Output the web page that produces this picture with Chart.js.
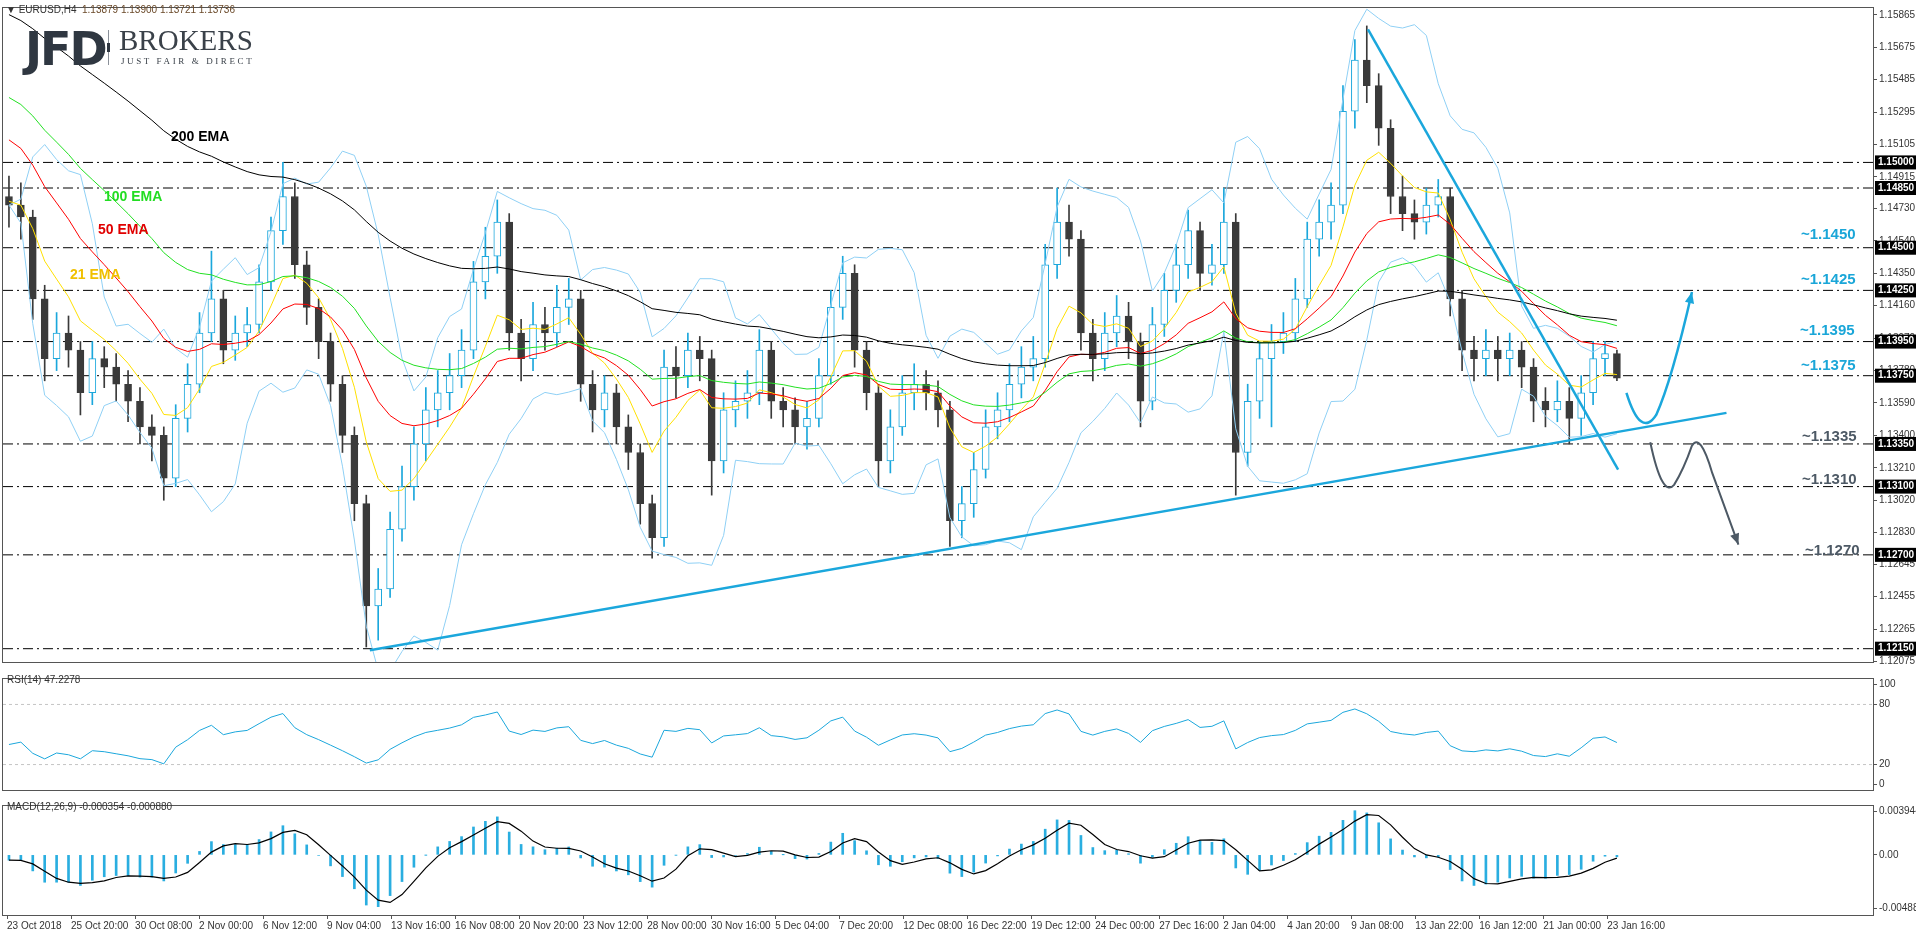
<!DOCTYPE html>
<html>
<head>
<meta charset="utf-8">
<script src="https://cdn.jsdelivr.net/npm/chart.js@4.4.1/dist/chart.umd.min.js"></script>
<style>
  body { margin: 0; background: #fff; width: 1916px; height: 936px; overflow: hidden; position: relative; font-family: "Liberation Sans", Arial, sans-serif; }
  canvas { position: absolute; left: 0; }
  .txt { position: absolute; white-space: nowrap; }
  .lvl { font-weight: bold; font-size: 15px; }
</style>
</head>
<body>
<canvas id="mainChart" width="1916" height="670" style="top:0"></canvas>
<canvas id="rsiChart" width="1916" height="127" style="top:671px"></canvas>
<canvas id="macdChart" width="1916" height="138" style="top:798px"></canvas>

<div class="txt" style="left:6px;top:4px;font-size:10px;color:#333">&#9660; EURUSD,H4 &nbsp;<span style="color:#6b4a2a">1.13879 1.13900 1.13721 1.13736</span></div>
<div class="txt" style="left:25px;top:22px;font-family:'DejaVu Sans';font-weight:bold;font-size:46px;letter-spacing:-2px;color:#2f3741">JFD</div>
<div style="position:absolute;left:108px;top:30px;width:1px;height:35px;background:#8a9099"></div>
<div style="position:absolute;left:107px;top:43px;width:3px;height:9px;background:#2f3741"></div>
<div class="txt" style="left:119px;top:24px;font-family:'Liberation Serif';font-size:29px;color:#3a4149">BROKERS</div>
<div class="txt" style="left:121px;top:56px;font-family:'Liberation Serif';font-size:9px;letter-spacing:2.6px;color:#3a4149">JUST FAIR &amp; DIRECT</div>

<div class="txt" style="left:171px;top:128px;font-weight:bold;font-size:14px;color:#000">200 EMA</div>
<div class="txt" style="left:104px;top:188px;font-weight:bold;font-size:14px;color:#22dd22">100 EMA</div>
<div class="txt" style="left:98px;top:221px;font-weight:bold;font-size:14px;color:#e00000">50 EMA</div>
<div class="txt" style="left:70px;top:266px;font-weight:bold;font-size:14px;color:#f0c000">21 EMA</div>

<div class="txt lvl" style="left:1801px;top:225px;color:#1aa6d8">~1.1450</div>
<div class="txt lvl" style="left:1801px;top:270px;color:#1aa6d8">~1.1425</div>
<div class="txt lvl" style="left:1800px;top:321px;color:#1aa6d8">~1.1395</div>
<div class="txt lvl" style="left:1801px;top:356px;color:#1aa6d8">~1.1375</div>
<div class="txt lvl" style="left:1802px;top:427px;color:#4d5965">~1.1335</div>
<div class="txt lvl" style="left:1802px;top:470px;color:#4d5965">~1.1310</div>
<div class="txt lvl" style="left:1805px;top:541px;color:#4d5965">~1.1270</div>

<div class="txt" style="left:7px;top:674px;font-size:10px;color:#333">RSI(14) 47.2278</div>
<div class="txt" style="left:7px;top:801px;font-size:10px;color:#333">MACD(12,26,9) -0.000354 -0.000880</div>

<script>
// EURUSD H4, one candle per 12h block
const firstOpen = 1.1480;
const closes = [1.1475,1.1468,1.1420,1.1385,1.1400,1.1390,1.1365,1.1385,1.1380,1.1370,
  1.1360,1.1345,1.1340,1.1315,1.1350,1.1370,1.1400,1.1420,1.1390,1.1400,
  1.1405,1.1430,1.1460,1.1480,1.1440,1.1415,1.1395,1.1370,1.1340,1.1300,
  1.1240,1.1250,1.1285,1.1310,1.1335,1.1355,1.1365,1.1375,1.1390,1.1430,
  1.1445,1.1465,1.1400,1.1385,1.1405,1.1400,1.1415,1.1420,1.1370,1.1355,
  1.1365,1.1345,1.1330,1.1300,1.1280,1.1380,1.1375,1.1390,1.1385,1.1325,
  1.1355,1.1360,1.1365,1.1390,1.1360,1.1355,1.1345,1.1350,1.1375,1.1415,
  1.1435,1.1390,1.1365,1.1325,1.1345,1.1365,1.1370,1.1365,1.1355,1.1290,
  1.1300,1.1320,1.1345,1.1355,1.1370,1.1380,1.1385,1.1440,1.1465,1.1455,
  1.1400,1.1385,1.1400,1.1410,1.1395,1.1360,1.1405,1.1425,1.1440,1.1460,
  1.1435,1.1440,1.1465,1.1330,1.1360,1.1385,1.1395,1.1400,1.1420,1.1455,
  1.1465,1.1475,1.1530,1.1560,1.1545,1.1520,1.1480,1.1470,1.1465,1.1475,
  1.1480,1.1420,1.1390,1.1385,1.1390,1.1385,1.1390,1.1380,1.1360,1.1355,
  1.1360,1.1350,1.1365,1.1385,1.13879,1.13736];
const highs = [1.1492,1.1488,1.1472,1.1428,1.1412,1.1410,1.1395,1.1395,1.1392,1.1388,
  1.1378,1.1368,1.1352,1.1345,1.1358,1.1382,1.1412,1.1448,1.1425,1.1410,
  1.1415,1.1440,1.1468,1.1500,1.1488,1.1448,1.1420,1.1400,1.1375,1.1345,
  1.1305,1.1262,1.1295,1.1322,1.1345,1.1368,1.1378,1.1388,1.1402,1.1442,
  1.1462,1.1478,1.1470,1.1408,1.1418,1.1415,1.1428,1.1432,1.1425,1.1378,
  1.1375,1.1370,1.1352,1.1335,1.1305,1.1390,1.1392,1.1400,1.1398,1.1390,
  1.1365,1.1372,1.1378,1.1402,1.1395,1.1368,1.1362,1.1360,1.1385,1.1425,
  1.1445,1.1440,1.1395,1.1370,1.1355,1.1375,1.1382,1.1378,1.1372,1.1360,
  1.1310,1.1330,1.1355,1.1365,1.1382,1.1392,1.1398,1.1452,1.1485,1.1475,
  1.1460,1.1408,1.1412,1.1422,1.1418,1.1400,1.1415,1.1435,1.1452,1.1472,
  1.1465,1.1452,1.1485,1.1470,1.1370,1.1395,1.1405,1.1412,1.1432,1.1465,
  1.1478,1.1488,1.1545,1.1572,1.1580,1.1552,1.1525,1.1492,1.1478,1.1485,
  1.1490,1.1485,1.1425,1.1398,1.1402,1.1398,1.1400,1.1395,1.1385,1.1368,
  1.1372,1.1368,1.1375,1.1395,1.1395,1.1390];
const lows = [1.1462,1.1455,1.1408,1.1372,1.1378,1.1380,1.1352,1.1358,1.1368,1.1360,
  1.1348,1.1335,1.1325,1.1302,1.1310,1.1342,1.1365,1.1395,1.1382,1.1384,
  1.1392,1.1400,1.1425,1.1452,1.1432,1.1405,1.1385,1.1360,1.1330,1.1290,
  1.1216,1.1220,1.1245,1.1278,1.1302,1.1325,1.1345,1.1355,1.1368,1.1385,
  1.1420,1.1435,1.1390,1.1372,1.1378,1.1390,1.1392,1.1405,1.1360,1.1342,
  1.1345,1.1335,1.1320,1.1288,1.1268,1.1275,1.1362,1.1368,1.1372,1.1305,
  1.1318,1.1345,1.1350,1.1358,1.1350,1.1345,1.1335,1.1332,1.1345,1.1370,
  1.1408,1.1380,1.1355,1.1310,1.1318,1.1340,1.1355,1.1355,1.1345,1.1275,
  1.1280,1.1292,1.1315,1.1338,1.1348,1.1362,1.1372,1.1380,1.1432,1.1445,
  1.1390,1.1372,1.1378,1.1392,1.1385,1.1345,1.1355,1.1398,1.1418,1.1432,
  1.1425,1.1428,1.1435,1.1305,1.1322,1.1350,1.1345,1.1388,1.1395,1.1415,
  1.1445,1.1455,1.1470,1.1520,1.1535,1.1510,1.1470,1.1460,1.1455,1.1458,
  1.1468,1.1410,1.1378,1.1372,1.1375,1.1372,1.1375,1.1368,1.1348,1.1345,
  1.1348,1.1335,1.1340,1.1358,1.1375,1.13721];

const dateLabels = ["23 Oct 2018","25 Oct 20:00","30 Oct 08:00","2 Nov 00:00","6 Nov 12:00","9 Nov 04:00",
  "13 Nov 16:00","16 Nov 08:00","20 Nov 20:00","23 Nov 12:00","28 Nov 00:00","30 Nov 16:00","5 Dec 04:00",
  "7 Dec 20:00","12 Dec 08:00","16 Dec 22:00","19 Dec 12:00","24 Dec 00:00","27 Dec 16:00","2 Jan 04:00",
  "4 Jan 20:00","9 Jan 08:00","13 Jan 22:00","16 Jan 12:00","21 Jan 00:00","23 Jan 16:00"];
const priceTicks = [1.15865,1.15675,1.15485,1.15295,1.15105,1.14915,1.14730,1.14540,1.14350,1.14160,
  1.13970,1.13780,1.13590,1.13400,1.13210,1.13020,1.12830,1.12645,1.12455,1.12265,1.12075];
const levels = [1.1500,1.1485,1.1450,1.1425,1.1395,1.1375,1.1335,1.1310,1.1270,1.1215];
const emaPeriods = [7, 17, 33, 67];           // 21/50/100/200 on H4, in 12h candles
const emaSeeds = [1.1478, 1.1518, 1.1542, 1.1590];
const emaColors = ['#ffe000', '#ff0000', '#22e022', '#000000'];
const upTrend = [[30.3, 1.12141], [144.2, 1.13532]];
const downTrend = [[114.1, 1.1578], [135.1, 1.1320]];
const rsiTicks = [0, 20, 80, 100];
const macdTicks = [-0.004887, 0, 0.003944];

const X_MIN = -0.5, X_MAX = 156.5;
const BLUE = '#1ba7dc';
const opens = closes.map((c, i) => i === 0 ? firstOpen : closes[i - 1]);

function ema(values, period, seed) {
    const k = 2 / (period + 1);
    let out = [], prev = seed;
    values.forEach(v => { prev = prev + k * (v - prev); out.push(prev); });
    return out;
}

function bollinger(values, period, dev) {
    let up = [], dn = [];
    values.forEach((v, i) => {
        const win = values.slice(Math.max(0, i - period + 1), i + 1);
        const m = win.reduce((a, b) => a + b, 0) / win.length;
        const sd = Math.sqrt(win.reduce((a, b) => a + (b - m) * (b - m), 0) / win.length);
        up.push(m + dev * sd);
        dn.push(m - dev * sd);
    });
    return [up, dn];
}

function rsi(values, period) {
    let out = [40], ag = 0.0008, al = 0.0010;
    for (let i = 1; i < values.length; i++) {
        const d = values[i] - values[i - 1];
        ag = (ag * (period - 1) + Math.max(d, 0)) / period;
        al = (al * (period - 1) + Math.max(-d, 0)) / period;
        out.push(100 - 100 / (1 + ag / al));
    }
    return out;
}

const pts = arr => arr.map((v, i) => ({ x: i, y: v }));
const seg = (a, b) => [{ x: a[0], y: a[1] }, { x: b[0], y: b[1] }];
const fixWidth = s => { s.width = 43; };

const framePlugin = {
    id: 'frame',
    afterDraw(chart) {
        const { ctx, chartArea: a } = chart;
        ctx.save();
        ctx.strokeStyle = '#555';
        ctx.lineWidth = 1;
        ctx.strokeRect(a.left - 0.5, a.top - 0.5, a.right - a.left + 1, a.bottom - a.top + 1);
        ctx.restore();
    }
};

function drawMain() {
    const isUp = closes.map((c, i) => c >= opens[i]);
    const [bbUp, bbDn] = bollinger(closes, 7, 2);
    let datasets = [];

    levels.forEach(l => datasets.push({
        type: 'line', data: seg([X_MIN, l], [X_MAX, l]), borderColor: '#000', borderWidth: 1,
        borderDash: [10, 4, 2, 4], pointRadius: 0, order: 20
    }));
    datasets.push({
        type: 'bar', data: lows.map((l, i) => ({ x: i, y: [l, highs[i]] })), barThickness: 1,
        backgroundColor: isUp.map(u => u ? BLUE : '#3a3a3a'), grouped: false, order: 12
    });
    datasets.push({
        type: 'bar', data: opens.map((o, i) => ({ x: i, y: [o, closes[i]] })), barThickness: 7,
        backgroundColor: isUp.map(u => u ? '#ffffff' : '#3a3a3a'),
        borderColor: isUp.map(u => u ? BLUE : '#3a3a3a'), borderWidth: 1, borderSkipped: false,
        grouped: false, minBarLength: 1, order: 11
    });
    [bbUp, bbDn].forEach(b => datasets.push({
        type: 'line', data: pts(b), borderColor: '#8fd0f5', borderWidth: 1, pointRadius: 0, order: 5
    }));
    emaPeriods.forEach((p, k) => datasets.push({
        type: 'line', data: pts(ema(closes, p, emaSeeds[k])), borderColor: emaColors[k], borderWidth: 1,
        pointRadius: 0, order: 4 - k
    }));
    [upTrend, downTrend].forEach(t => datasets.push({
        type: 'line', data: seg(t[0], t[1]), borderColor: BLUE, borderWidth: 2.5, pointRadius: 0, order: 0
    }));

    const annotations = {
        id: 'annotations',
        afterDraw(chart) {
            const { ctx, scales: { x, y } } = chart;
            const P = (i, v) => [x.getPixelForValue(i), y.getPixelForValue(v)];
            ctx.save();
            // scenario arrows
            function arrowHead(tip, from, color) {
                const ang = Math.atan2(tip[1] - from[1], tip[0] - from[0]);
                ctx.fillStyle = color;
                ctx.beginPath();
                ctx.moveTo(tip[0], tip[1]);
                ctx.lineTo(tip[0] - 12 * Math.cos(ang - 0.4), tip[1] - 12 * Math.sin(ang - 0.4));
                ctx.lineTo(tip[0] - 12 * Math.cos(ang + 0.4), tip[1] - 12 * Math.sin(ang + 0.4));
                ctx.closePath();
                ctx.fill();
            }
            ctx.lineWidth = 2.5;
            ctx.strokeStyle = BLUE;
            let a = P(135.8, 1.1365), c1 = P(137.0, 1.1338), b = P(138.3, 1.1352), c2 = P(139.6, 1.1372), t = P(141.3, 1.1424);
            ctx.beginPath();
            ctx.moveTo(...a); ctx.quadraticCurveTo(...c1, ...b); ctx.quadraticCurveTo(...c2, ...t);
            ctx.stroke();
            arrowHead(t, c2, BLUE);

            ctx.lineWidth = 2;
            ctx.strokeStyle = '#4d5965';
            let g = [P(137.8, 1.1336), P(138.8, 1.1303), P(139.8, 1.1311), P(140.6, 1.1320), P(141.3, 1.1334), P(142.0, 1.1342), P(143.0, 1.1318), P(145.2, 1.1276)];
            ctx.beginPath();
            ctx.moveTo(...g[0]); ctx.quadraticCurveTo(...g[1], ...g[2]); ctx.quadraticCurveTo(...g[3], ...g[4]);
            ctx.quadraticCurveTo(...g[5], ...g[6]); ctx.lineTo(...g[7]);
            ctx.stroke();
            arrowHead(g[7], g[6], '#4d5965');

            // level boxes on the price axis
            ctx.font = 'bold 10px "Liberation Sans"';
            ctx.textBaseline = 'middle';
            levels.forEach(l => {
                const py = y.getPixelForValue(l);
                ctx.fillStyle = '#000';
                ctx.fillRect(1875, py - 7, 41, 14);
                ctx.fillStyle = '#fff';
                ctx.fillText(l.toFixed(5), 1878, py);
            });
            ctx.restore();
        }
    };

    new Chart(document.getElementById('mainChart'), {
        type: 'bar',
        data: { datasets },
        options: {
            responsive: false, animation: false, devicePixelRatio: 1,
            layout: { padding: { left: 3, top: 1, bottom: 2 } },
            plugins: { legend: { display: false }, tooltip: { enabled: false } },
            scales: {
                x: { type: 'linear', min: X_MIN, max: X_MAX, offset: false, display: false },
                y: {
                    position: 'right', min: 1.12072, max: 1.15905, afterFit: fixWidth,
                    afterBuildTicks: s => { s.ticks = priceTicks.map(v => ({ value: v })); },
                    grid: { drawOnChartArea: false, tickLength: 4, color: '#555' },
                    border: { color: '#555' },
                    ticks: { padding: 2, color: '#333', font: { size: 10, family: 'Liberation Sans' }, callback: v => v.toFixed(5) }
                }
            }
        },
        plugins: [framePlugin, annotations]
    });
}

function drawRsi() {
    new Chart(document.getElementById('rsiChart'), {
        type: 'line',
        data: {
            datasets: [
                { data: seg([X_MIN, 80], [X_MAX, 80]), borderColor: '#c4c4c4', borderWidth: 1, borderDash: [3, 3], pointRadius: 0 },
                { data: seg([X_MIN, 20], [X_MAX, 20]), borderColor: '#c4c4c4', borderWidth: 1, borderDash: [3, 3], pointRadius: 0 },
                { data: pts(rsi(closes, 9)), borderColor: BLUE, borderWidth: 1, pointRadius: 0 }
            ]
        },
        options: {
            responsive: false, animation: false, devicePixelRatio: 1,
            layout: { padding: { left: 3, top: 1, bottom: 1 } },
            plugins: { legend: { display: false }, tooltip: { enabled: false } },
            scales: {
                x: { type: 'linear', min: X_MIN, max: X_MAX, offset: false, display: false },
                y: {
                    position: 'right', min: -5.4, max: 105.4, afterFit: fixWidth,
                    afterBuildTicks: s => { s.ticks = rsiTicks.map(v => ({ value: v })); },
                    grid: { drawOnChartArea: false, tickLength: 4, color: '#555' },
                    border: { color: '#555' },
                    ticks: { padding: 2, color: '#333', font: { size: 10, family: 'Liberation Sans' } }
                }
            }
        },
        plugins: [framePlugin]
    });
}

function drawMacd() {
    const fast = ema(closes, 4, closes[0]);
    const slow = ema(closes, 9, closes[0] + 0.0006);
    const macd = fast.map((f, i) => f - slow[i]);
    const signal = macd.map((m, i) => {
        const w = macd.slice(Math.max(0, i - 2), i + 1);
        return w.reduce((a, b) => a + b, 0) / w.length;
    });
    const tickIdx = dateLabels.map((d, k) => -0.16 + 5.374 * k);

    new Chart(document.getElementById('macdChart'), {
        type: 'bar',
        data: {
            datasets: [
                { type: 'bar', data: pts(macd), backgroundColor: '#2aaee0', barThickness: 2, order: 2 },
                { type: 'line', data: pts(signal), borderColor: '#000', borderWidth: 1.2, pointRadius: 0, order: 1 }
            ]
        },
        options: {
            responsive: false, animation: false, devicePixelRatio: 1,
            layout: { padding: { left: 3, top: 1, bottom: 0 } },
            plugins: { legend: { display: false }, tooltip: { enabled: false } },
            scales: {
                x: {
                    type: 'linear', min: X_MIN, max: X_MAX, offset: false,
                    afterBuildTicks: s => { s.ticks = tickIdx.map(v => ({ value: v })); },
                    afterFit: s => { s.height = 21; },
                    grid: { drawOnChartArea: false, tickLength: 4, color: '#555', offset: false },
                    border: { color: '#555' },
                    ticks: {
                        align: 'start', maxRotation: 0, autoSkip: false, padding: 1, color: '#333',
                        font: { size: 10, family: 'Liberation Sans' },
                        callback: (v, i) => dateLabels[i]
                    }
                },
                y: {
                    position: 'right', min: -0.005487, max: 0.004458, afterFit: fixWidth,
                    afterBuildTicks: s => { s.ticks = macdTicks.map(v => ({ value: v })); },
                    grid: { drawOnChartArea: false, tickLength: 4, color: '#555' },
                    border: { color: '#555' },
                    ticks: { padding: 2, color: '#333', font: { size: 10, family: 'Liberation Sans' }, callback: v => v === 0 ? '0.00' : v.toFixed(6) }
                }
            }
        },
        plugins: [framePlugin]
    });
}

drawMain();
drawRsi();
drawMacd();
</script>
</body>
</html>
